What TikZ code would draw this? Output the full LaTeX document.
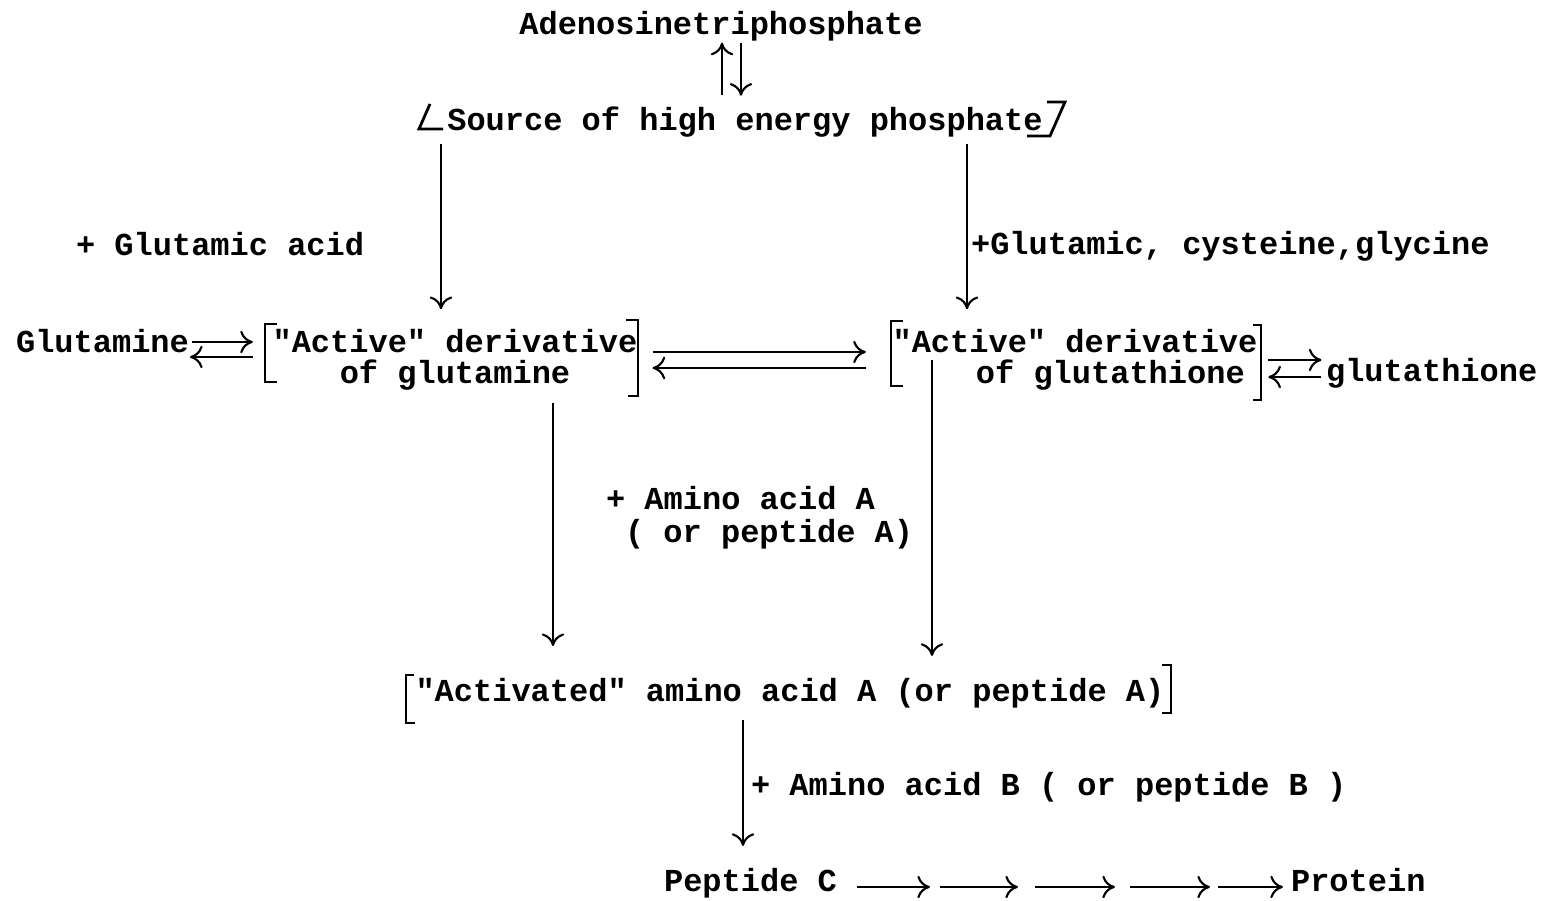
\documentclass[tikz,border=0pt]{standalone}
\usepackage{fontspec}
\setmainfont{Liberation Mono}
\usetikzlibrary{arrows.meta,positioning,calc}

\begin{document}
\begin{tikzpicture}[x=0.01cm, y=-0.01cm, >={To[length=3.6pt,width=6.4pt]}, semithick,
  every node/.style={inner sep=0pt, font=\fontsize{9.1}{8.8}\selectfont\bfseries},
  rx/.style={->},
  brk/.style={line width=0.8pt}]
\useasboundingbox (0,0) rectangle (1550,901);

% substances
\node[anchor=base] (atp) at (721,35) {Adenosinetriphosphate};
\node[anchor=base] (src) at (745,131) {Source of high energy phosphate};
\node[anchor=base west] (glu) at (15,353) {Glutamine};
\node[align=center] (actglu) at (455,360) {\textquotedbl Active\textquotedbl{} derivative\\of glutamine};
\node[align=right] (actgsh) at (1075,360) {\textquotedbl Active\textquotedbl{} derivative\\of glutathione\hspace*{3.6pt}};
\node[anchor=base west] (gsh) at (1325,382) {glutathione};
\node[anchor=base] (actA) at (790,702) {\textquotedbl Activated\textquotedbl{} amino acid A (or peptide A)};
\node[anchor=base west] (pepC) at (663,892) {Peptide C};
\node[anchor=base west] (prot) at (1290,892) {Protein};
\coordinate (chain) at (0,887);

% additions
\node[anchor=base west] (plusglu) at (75,256) {+ Glutamic acid};
\node[anchor=base west] (plusgsh) at (970,255) {+Glutamic, cysteine,glycine};
\node[anchor=base west] (plusA) at (605,510) {+ Amino acid A};
\node[anchor=base west] (plusAb) at (624,543) {( or peptide A)};
\node[anchor=base west] (plusB) at (750,796) {+ Amino acid B ( or peptide B )};

% brackets
\draw[brk] (430,104) -- (419,129) -- (443,129);
\draw[brk] (1027,136) -- (1050,136) -- (1065,102) -- (1047,102);
\draw[brk] (277,324) -- (265,324) -- (265,382) -- (277,382);
\draw[brk] (626,320) -- (638,320) -- (638,396) -- (628,396);
\draw[brk] (903,321) -- (891,321) -- (891,386) -- (903,386);
\draw[brk] (1253,325) -- (1261,325) -- (1261,400) -- (1253,400);
\draw[brk] (414,675) -- (406,675) -- (406,723) -- (415,723);
\draw[brk] (1162,665) -- (1171,665) -- (1171,713) -- (1162,713);

% reactions
\draw[rx, shorten <=3.1pt] (src.north -| 722,0) -- (atp.south -| 722,0);
\draw[rx, shorten >=3pt] (atp.south -| 741,0) -- (src.north -| 741,0);
\draw[rx, shorten <=1.4pt, shorten >=5.5pt] (src.south -| 441,0) -- (actglu.north -| 441,0);
\draw[rx, shorten <=1.4pt, shorten >=5.5pt] (src.south -| 967,0) -- (actgsh.north -| 967,0);
\draw[rx, shorten <=0.6pt, shorten >=5.3pt] (glu.east |- 0,342) -- (actglu.west |- 0,342);
\draw[rx, shorten <=5.3pt] (actglu.west |- 0,357) -- (glu.east |- 0,357);
\draw[rx, shorten <=4pt, shorten >=7.3pt] (actglu.east |- 0,352) -- (actgsh.west |- 0,352);
\draw[rx, shorten <=7.3pt, shorten >=4pt] (actgsh.west |- 0,368) -- (actglu.east |- 0,368);
\draw[rx, shorten <=2.8pt, shorten >=1pt] (actgsh.east |- 0,360) -- (gsh.west |- 0,360);
\draw[rx, shorten <=1pt, shorten >=2.8pt] (gsh.west |- 0,377) -- (actgsh.east |- 0,377);
\draw[rx, shorten <=3.2pt, shorten >=9pt] (actglu.south -| 553,0) -- (actA.north -| 553,0);
\draw[rx, shorten >=6.2pt] (actgsh.center -| 932,0) -- (actA.north -| 932,0);
\draw[rx, shorten <=2.8pt, shorten >=6.2pt] (actA.south -| 743,0) -- (pepC.north -| 743,0);
\draw[rx, shorten <=5.3pt] (pepC.east |- chain) -- (930,0 |- chain);
\foreach \a/\b in {940/1018,1035/1115,1130/1210}
  \draw[rx] (\a,0 |- chain) -- (\b,0 |- chain);
\draw[rx, shorten >=2pt] (1218,0 |- chain) -- (prot.west |- chain);
\end{tikzpicture}
\end{document}
